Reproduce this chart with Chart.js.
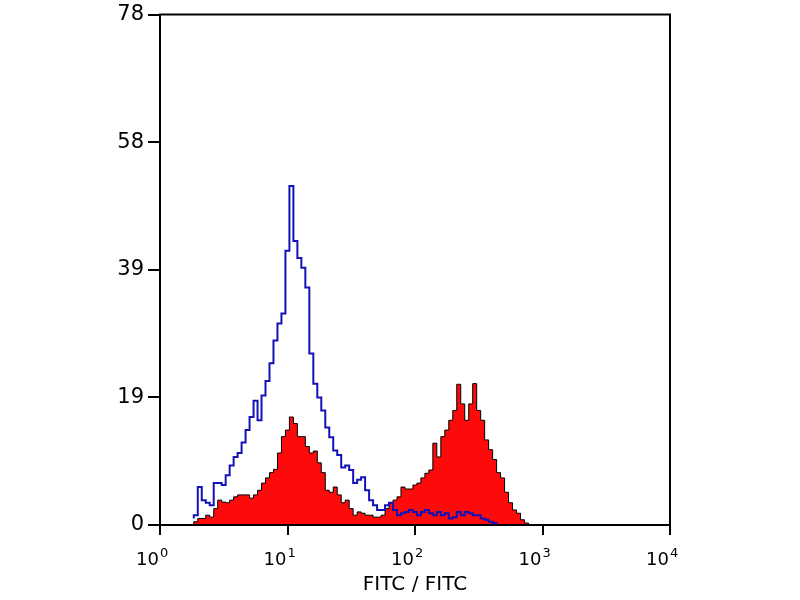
<!DOCTYPE html>
<html>
<head>
<meta charset="utf-8">
<script src="https://cdn.jsdelivr.net/npm/chart.js@4"></script>
<style>
  html, body { margin: 0; padding: 0; background: #fff; }
  #wrap { width: 800px; height: 600px; }
</style>
</head>
<body>
<div id="wrap"><canvas id="histChart" width="800" height="600"></canvas></div>
<script>
// histogram bins: 1/32 decade wide
const binStart = 0.265;
const binStep = 1 / 32;

// isotype control (blue outline)
const blueCounts = [
  1, 1.5, 5.8, 3.8, 3.4, 3, 6.4, 6.4, 6.1, 7.6,
  9.1, 10.4, 11, 12.6, 14.5, 16.5, 19, 16, 19.8, 22,
  24.7, 28.2, 30.8, 32.3, 41.9, 51.8, 43.4, 40.8, 39.3, 36.3,
  26.2, 21.6, 19.5, 17.5, 14.9, 13.4, 11.4, 10.7, 8.8, 9.1,
  8.4, 6.4, 6.9, 7.3, 5.3, 3.8, 3, 2.3, 2.3, 3,
  3.4, 2.3, 1.5, 1.8, 2, 2.3, 2, 1.5, 2, 2.3,
  1.8, 1.5, 2, 1.5, 1.8, 1, 1.2, 2, 1.5, 2,
  1.8, 1.5, 1.5, 1, 0.8, 0.5, 0.3, 0, 0, 0,
  0, 0, 0, 0, 0, 0
];

// stained sample (red filled)
const redCounts = [
  0, 0.5, 1, 1, 1.5, 1.2, 2.5, 3.8, 3.5, 3.4,
  3.8, 4.3, 4.6, 4.6, 4.6, 4.1, 4.6, 5.3, 6.4, 7.2,
  8, 8.5, 11, 13.5, 14.5, 16.5, 15.5, 13.5, 13.5, 12,
  11, 11.3, 9.5, 8, 5.3, 5, 5.8, 4.6, 3.4, 3.8,
  2.5, 1.5, 2, 1.8, 1.5, 1.5, 1.2, 1.2, 1.5, 2.5,
  3.4, 3.8, 4.3, 5.8, 5.5, 5.5, 6.1, 6.4, 7.2, 7.9,
  8.4, 12.5, 10.4, 13.5, 14.5, 16, 17.5, 21.5, 18.5, 16,
  18.5, 21.6, 17.5, 16, 13, 11.5, 10, 8, 7.2, 5,
  3.4, 2.3, 1.8, 0.8, 0.3, 0
];

const yTicks = [0, 19.5, 39, 58.5, 78];
const xTicks = [1, 10, 100, 1000, 10000];
const xTickBase = "10";
const xTickExponents = ["0", "1", "2", "3", "4"];

const FONT = "'DejaVu Sans', 'Liberation Sans', sans-serif";

const toPoints = (counts) =>
  counts.map((c, i) => ({ x: Math.pow(10, binStart + i * binStep), y: c }));

// frame round the plot + decade labels with superscript exponents
const framePlugin = {
  id: "frame",
  afterDraw(chart) {
    const { ctx, chartArea } = chart;
    const xs = chart.scales.x;
    ctx.save();
    ctx.strokeStyle = "#000";
    ctx.lineWidth = 2;
    ctx.strokeRect(chartArea.left, chartArea.top, chartArea.right - chartArea.left, chartArea.bottom - chartArea.top);

    ctx.fillStyle = "#000";
    ctx.textBaseline = "alphabetic";
    xTicks.forEach((v, i) => {
      const px = xs.getPixelForValue(v);
      ctx.font = "18px " + FONT;
      ctx.textAlign = "right";
      ctx.fillText(xTickBase, px - 1, 565);
      ctx.font = "13px " + FONT;
      ctx.textAlign = "left";
      ctx.fillText(xTickExponents[i], px, 557);
    });
    ctx.restore();
  },
};

const ctx = document.getElementById("histChart").getContext("2d");

new Chart(ctx, {
  type: "line",
  data: {
    datasets: [
      {
        label: "Control",
        data: toPoints(blueCounts),
        stepped: "after",
        borderColor: "#1212b8",
        borderWidth: 2,
        pointRadius: 0,
        fill: false,
        order: 0,
      },
      {
        label: "FITC",
        data: toPoints(redCounts),
        stepped: "after",
        borderColor: "#000",
        borderWidth: 1,
        backgroundColor: "#ff0a0a",
        pointRadius: 0,
        fill: "origin",
        order: 1,
      },
    ],
  },
  options: {
    responsive: false,
    animation: false,
    layout: { padding: { left: 0, right: 130, top: 10, bottom: 0 } },
    plugins: {
      legend: { display: false },
      tooltip: { enabled: false },
    },
    scales: {
      x: {
        type: "logarithmic",
        min: 1,
        max: 10000,
        afterBuildTicks: (scale) => {
          scale.ticks = xTicks.map((v) => ({ value: v }));
        },
        afterFit: (scale) => {
          scale.height = 75;
        },
        ticks: {
          callback: () => "",
          maxRotation: 0,
        },
        grid: {
          drawOnChartArea: false,
          drawTicks: true,
          tickLength: 10,
          color: "#000",
          lineWidth: 2,
        },
        border: { color: "#000", width: 2 },
        title: {
          display: true,
          text: "FITC / FITC",
          color: "#000",
          font: { family: FONT, size: 20 },
          padding: { top: 0, bottom: 3 },
        },
      },
      y: {
        min: 0,
        max: 78,
        afterBuildTicks: (scale) => {
          scale.ticks = yTicks.map((v) => ({ value: v }));
        },
        afterFit: (scale) => {
          scale.width = 160;
        },
        ticks: {
          callback: (value) => Math.floor(value),
          color: "#000",
          font: { family: FONT, size: 21, lineHeight: 1 },
          padding: 4,
        },
        grid: {
          drawOnChartArea: false,
          drawTicks: true,
          tickLength: 12,
          color: "#000",
          lineWidth: 2,
        },
        border: { color: "#000", width: 2 },
      },
    },
  },
  plugins: [framePlugin],
});
</script>
</body>
</html>
